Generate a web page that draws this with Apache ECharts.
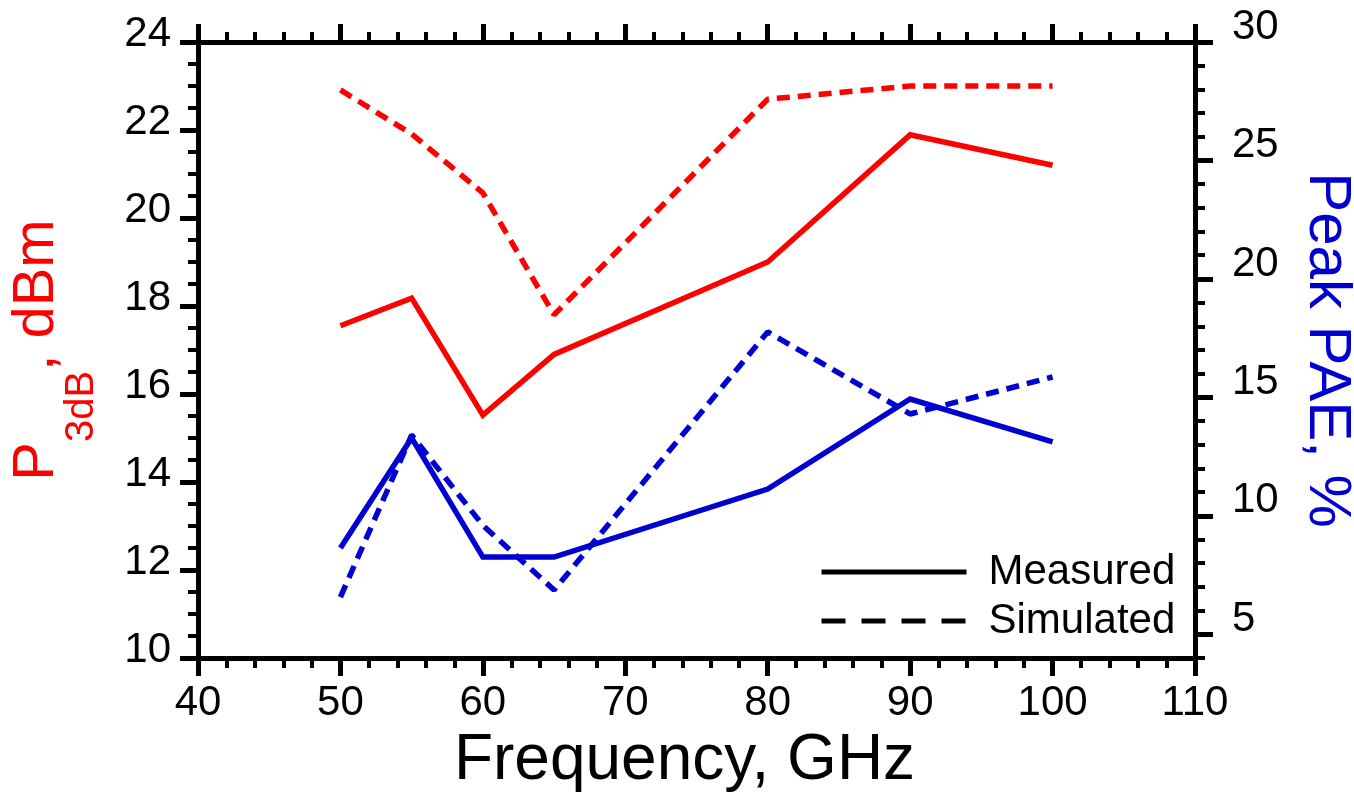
<!DOCTYPE html>
<html>
<head>
<meta charset="utf-8">
<script src="https://cdn.jsdelivr.net/npm/echarts@6/dist/echarts.min.js"></script>
<style>
html,body{margin:0;padding:0;background:#fff;overflow:hidden;}
#chart{width:1354px;height:795px;}
</style>
</head>
<body>
<div id="chart"></div>
<script>
// Data
const freq = [50, 55, 60, 65, 80, 90, 100];
const p3dbMeasured = [17.55, 18.18, 15.52, 16.9, 19.0, 21.89, 21.2];
const p3dbSimulated = [22.91, 21.91, 20.57, 17.8, 22.7, 23.0, 23.0];
const paeMeasured = [8.64, 13.29, 8.26, 8.26, 11.13, 14.93, 13.12];
const paeSimulated = [6.57, 13.41, 9.6, 6.87, 17.76, 14.3, 15.86];
const paeMajorTicks = [5, 10, 15, 20, 25, 30];
const legendNames = ['Measured', 'Simulated'];

const FONT = '"Liberation Sans", Arial, sans-serif';
const RED = '#ff0000';
const BLUE = '#0000d0';

function pairs(xs, ys) { return xs.map((x, i) => [x, ys[i]]); }

const chart = echarts.init(document.getElementById('chart'));

const xCommon = {
  type: 'value', min: 40, max: 110, interval: 10,
  axisLine: { show: true, onZero: false, lineStyle: { color: '#000', width: 5 } },
  axisTick: { show: true, length: 18, lineStyle: { color: '#000', width: 5 } },
  minorTick: { show: true, splitNumber: 5, length: 10, lineStyle: { color: '#000', width: 4 } },
  splitLine: { show: false }, minorSplitLine: { show: false }
};

const option = {
  animation: false,
  backgroundColor: '#fff',
  grid: { left: 198, right: 159, top: 42, bottom: 137, containLabel: false, outerBoundsMode: 'none' },
  legend: {
    data: legendNames,
    orient: 'vertical',
    left: 819, top: 551, padding: 0,
    itemWidth: 145, itemHeight: 20, itemGap: 7,
    itemStyle: { color: 'rgba(0,0,0,0)', borderWidth: 0, opacity: 0 },
    lineStyle: { width: 5, color: '#000' },
    textStyle: { fontFamily: FONT, fontSize: 42, color: '#000', lineHeight: 40, padding: [0, 0, 0, 17] },
    selectedMode: false
  },
  xAxis: [
    Object.assign({}, xCommon, {
      position: 'bottom',
      axisLabel: { fontFamily: FONT, fontSize: 42, color: '#000', margin: 24 },
      name: 'Frequency, GHz', nameLocation: 'middle', nameGap: 45,
      nameTextStyle: { fontFamily: FONT, fontSize: 64, color: '#000', padding: [0, 24, 0, 0] }
    }),
    Object.assign({}, xCommon, {
      position: 'top',
      axisLabel: { show: false }
    })
  ],
  yAxis: [
    {
      type: 'value', position: 'left', min: 10, max: 24, interval: 2,
      axisLine: { show: true, onZero: false, lineStyle: { color: '#000', width: 5 } },
      axisTick: { show: true, length: 18, lineStyle: { color: '#000', width: 5 } },
      minorTick: { show: true, splitNumber: 4, length: 10, lineStyle: { color: '#000', width: 4 } },
      splitLine: { show: false }, minorSplitLine: { show: false },
      axisLabel: { fontFamily: FONT, fontSize: 42, color: '#000', margin: 27, verticalAlign: 'bottom', lineHeight: 16 },
      name: '{p|P}{sub|3dB}{p|, dBm}',
      nameLocation: 'middle', nameRotate: 90, nameGap: 43,
      nameTextStyle: {
        color: RED, fontFamily: FONT,
        rich: {
          p: { fontFamily: FONT, fontSize: 58, color: RED, lineHeight: 64, verticalAlign: 'top' },
          sub: { fontFamily: FONT, fontSize: 40, color: RED, lineHeight: 147 }
        }
      }
    },
    {
      type: 'value', position: 'right', min: 4, max: 30, interval: 1,
      axisLine: { show: true, onZero: false, lineStyle: { color: '#000', width: 5 } },
      axisTick: { show: true, length: 18, customValues: paeMajorTicks, lineStyle: { color: '#000', width: 5 } },
      splitLine: { show: false },
      axisLabel: { fontFamily: FONT, fontSize: 42, color: '#000', margin: 37, customValues: paeMajorTicks, verticalAlign: 'bottom', lineHeight: 30 },
      name: 'Peak PAE, %', nameLocation: 'middle', nameRotate: -90, nameGap: 102,
      nameTextStyle: { fontFamily: FONT, fontSize: 60, color: BLUE }
    },
    {
      type: 'value', position: 'right', min: 4, max: 30, interval: 1,
      axisLine: { show: false },
      axisTick: { show: true, length: 10, lineStyle: { color: '#000', width: 4 } },
      splitLine: { show: false },
      axisLabel: { show: false }
    }
  ],
  series: [
    {
      name: 'P3dB Measured', type: 'line', xAxisIndex: 0, yAxisIndex: 0,
      data: pairs(freq, p3dbMeasured), symbol: 'none',
      lineStyle: { color: RED, width: 5.5, type: 'solid', join: 'miter' }
    },
    {
      name: 'P3dB Simulated', type: 'line', xAxisIndex: 0, yAxisIndex: 0,
      data: pairs(freq, p3dbSimulated), symbol: 'none',
      lineStyle: { color: RED, width: 5.5, type: [13, 8] }
    },
    {
      name: 'PAE Measured', type: 'line', xAxisIndex: 0, yAxisIndex: 1,
      data: pairs(freq, paeMeasured), symbol: 'none',
      lineStyle: { color: BLUE, width: 5.5, type: 'solid', join: 'miter' }
    },
    {
      name: 'PAE Simulated', type: 'line', xAxisIndex: 0, yAxisIndex: 1,
      data: pairs(freq, paeSimulated), symbol: 'none',
      lineStyle: { color: BLUE, width: 5.5, type: [13, 8] }
    },
    {
      name: 'Measured', type: 'line', xAxisIndex: 0, yAxisIndex: 0, data: [], symbol: 'none',
      itemStyle: { color: '#000' },
      lineStyle: { color: '#000', width: 5, type: 'solid' }
    },
    {
      name: 'Simulated', type: 'line', xAxisIndex: 0, yAxisIndex: 0, data: [], symbol: 'none',
      itemStyle: { color: '#000' },
      lineStyle: { color: '#000', width: 5, type: [24, 16] }
    }
  ]
};
chart.setOption(option);
</script>
</body>
</html>
